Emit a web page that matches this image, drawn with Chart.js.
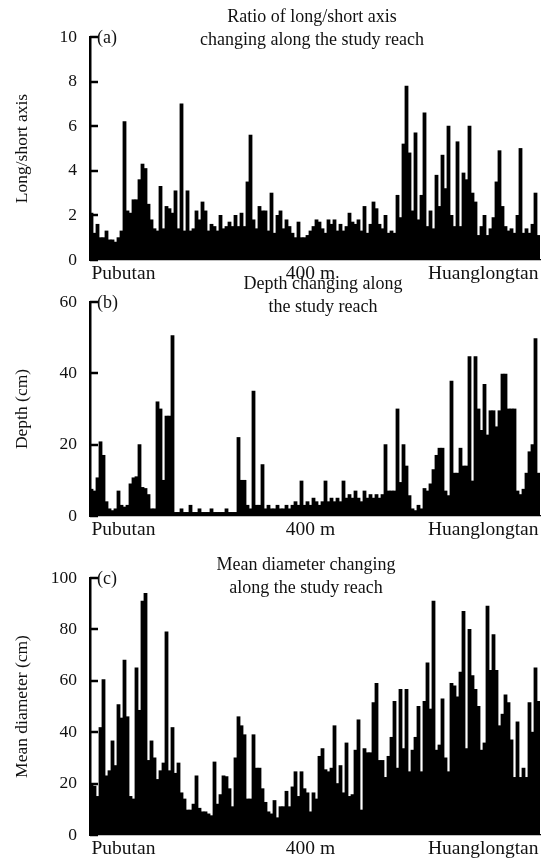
<!DOCTYPE html>
<html>
<head>
<meta charset="utf-8">
<script src="https://cdn.jsdelivr.net/npm/chart.js@4.4.1/dist/chart.umd.min.js"></script>
<style>
  html, body { margin: 0; padding: 0; background: #fff; }
  #wrap { position: relative; width: 555px; height: 867px; overflow: hidden; }
  canvas { position: absolute; left: 0; }
</style>
</head>
<body>
<div id="wrap">
  <canvas id="ca" width="555" height="292" style="top:0px"></canvas>
  <canvas id="cb" width="555" height="290" style="top:272px"></canvas>
  <canvas id="cc" width="555" height="315" style="top:552px"></canvas>
</div>
<script>
// ---------- DATA ----------
// sampling stations along the reach, Pubutan (first) -> Huanglongtan (last)
const stations = Array.from({length: 150}, (_, i) => i + 1);
const tickLabels = ['Pubutan', '400 m', 'Huanglongtan'];
const tickStations = [1, 74, 150];

const ratioLongShort = [
  2.1,1.2,1.6,1.0,1.0,1.3,0.9,0.9,0.8,1.0,1.3,6.2,2.2,2.1,2.7,2.7,3.6,4.3,4.1,2.5,
  1.8,1.4,1.3,3.3,1.4,2.4,2.3,2.1,3.1,1.4,7.0,1.3,3.1,1.3,1.4,2.2,1.8,2.6,2.2,1.3,
  1.6,1.5,1.3,2.0,1.4,1.5,1.7,1.5,2.0,1.5,
  2.1,1.5,3.5,5.6,1.8,1.4,2.4,2.2,2.2,1.3,3.0,1.2,2.0,2.2,1.4,1.8,1.5,1.2,1.0,1.7,
  1.0,1.0,1.1,1.3,1.5,1.8,1.7,1.4,1.2,1.8,1.6,1.8,1.3,1.6,1.3,1.5,2.1,1.7,1.6,1.8,
  1.3,2.4,1.2,1.6,2.6,2.3,1.6,1.4,2.0,1.2,
  1.3,1.2,2.9,1.9,5.2,7.8,4.8,2.2,5.7,1.8,2.9,6.6,1.5,2.2,1.4,3.8,2.4,4.7,3.2,6.0,
  2.0,1.5,5.3,1.5,3.9,3.6,6.0,3.0,2.6,1.1,1.5,2.0,1.1,1.4,1.9,3.5,4.9,2.4,1.5,1.3,
  1.4,1.2,2.0,5.0,1.2,1.4,1.2,1.6,3.0,1.1
];

const depthCm = [
  7.5,7,10.7,20.8,17,4,2,1.5,2,7,3,2.5,3,9,10.7,11,20,8,7.7,6,
  2,2,32,30,10,28,28,50.6,
  1,1,2,1,1,3,1,1,2,1,1,1,2,1,1,1,1,2,1,1,1,
  22,10,10,3,2,35,3,3,14.4,
  2,3,2,2,3,2,2,3,2,3,4,3,
  9.8,3,4,3,5,4,3,4,9.8,4,5,4,5,4,9.8,5,6,5,7,5,4,7,5,6,5,6,5,6,
  20,7,7,7,30,9.4,20,14,5.7,2,1.5,3,2,7.7,7,9,13,17,19,19,
  7,5.7,37.8,12,12,19,14,14,44.7,9.8,44.7,30,24,36.9,22.7,29.5,29.5,25,29.5,39.8,
  39.8,30,30,30,7,6,7.5,12,18,20,49.7,12
];

const meanDiameterCm = [
  20,19,15,41.8,60.4,23,25,36.6,27,50.7,45.5,68,46,15,14,65,48.5,91,94,29,
  36.6,30,21.6,25,28,79,25,41.8,24,28,16.4,14,9.7,9.7,12,23,10.4,9,9,8.2,
  7.5,28.4,12,15.7,23,22.7,18,11,30,46,
  42.5,39,14,14,39,26,26,18,12.7,9,8.2,13.4,6.7,11,11,17,11,18.7,24.6,15,
  24.6,18,16.4,9,16.4,14,30.6,33.6,25.4,24.6,26,42.5,20,27,16.4,35.8,15,15.7,33,44.8,
  9.7,33.6,32,32,51.5,59,29,29,22.4,30.6,
  38,52,26,56.7,33.6,56.7,24.6,33,38,50,24.6,52,67,49,91,33,35,53,30,24.6,
  59,58,53.7,63.4,87,33.6,80,62,56.7,50,33,35.8,89,64,78,64,42.5,47,54.5,51.5,
  37,22.4,44,22.4,26,22.4,51.5,40,65,52
];

// ---------- RENDER ----------
const SERIF = '"Liberation Serif", "Times New Roman", Times, serif';
const TXT = '#111';

const panelDecor = {
  id: 'panelDecor',
  afterDraw(chart, args, o) {
    const ctx = chart.ctx, ys = chart.scales.y, area = chart.chartArea;
    ctx.save();
    ctx.strokeStyle = '#000';
    ctx.lineWidth = 2.5;
    ys.ticks.forEach(t => {
      const py = Math.round(ys.getPixelForValue(t.value));
      ctx.beginPath();
      ctx.moveTo(area.left, py);
      ctx.lineTo(area.left + 8, py);
      ctx.stroke();
    });
    ctx.fillStyle = TXT;
    ctx.font = '18px ' + SERIF;
    ctx.textBaseline = 'middle';
    ctx.textAlign = 'left';
    ctx.fillText(o.letter, area.left + 7, ys.getPixelForValue(ys.max) + 1);
    ctx.textAlign = 'center';
    o.lines.forEach((s, i) => ctx.fillText(s, o.cx, o.ty + i * o.gap));
    ctx.restore();
  }
};

function makePanel(id, values, yMax, yStep, yTitle, letter, lines, cx, ty, padTop, padBottom) {
  new Chart(document.getElementById(id), {
    type: 'bar',
    data: {
      labels: stations,
      datasets: [{
        data: values,
        backgroundColor: '#000',
        borderWidth: 0,
        barPercentage: 1,
        categoryPercentage: 1,
        inflateAmount: 0.4
      }]
    },
    options: {
      responsive: false,
      animation: false,
      devicePixelRatio: 1,
      events: [],
      layout: { padding: { left: 0, right: 15, top: padTop, bottom: padBottom } },
      plugins: {
        legend: { display: false },
        tooltip: { enabled: false },
        panelDecor: { letter, lines, cx, ty, gap: 23 }
      },
      scales: {
        x: {
          grid: { display: true, drawOnChartArea: false, drawTicks: false },
          border: { display: true, color: '#000', width: 1.2, z: 1 },
          ticks: {
            autoSkip: false,
            maxRotation: 0,
            minRotation: 0,
            align: 'inner',
            padding: 2,
            color: TXT,
            font: { family: SERIF, size: 19.5 },
            callback: (v, i) => {
              const k = tickStations.indexOf(stations[i]);
              return k >= 0 ? tickLabels[k] : '';
            }
          },
          afterFit: s => { s.height = 30; }
        },
        y: {
          min: 0,
          max: yMax,
          grid: { display: true, drawOnChartArea: false, drawTicks: false },
          border: { display: true, color: '#000', width: 2.5, z: 1 },
          ticks: {
            stepSize: yStep,
            padding: 13,
            color: TXT,
            font: { family: SERIF, size: 17.5 }
          },
          title: {
            display: true,
            text: yTitle,
            color: TXT,
            font: { family: SERIF, size: 17.5 },
            padding: { top: 12, bottom: 0 }
          },
          afterFit: s => { s.width = 90; }
        }
      }
    },
    plugins: [panelDecor]
  });
}

makePanel('ca', ratioLongShort, 10, 2, 'Long/short axis', '(a)',
  ['Ratio of long/short axis', 'changing along the study reach'], 312, 17, 37, 2);
makePanel('cb', depthCm, 60, 20, 'Depth (cm)', '(b)',
  ['Depth changing along', 'the study reach'], 323, 12, 30, 16);
makePanel('cc', meanDiameterCm, 100, 20, 'Mean diameter (cm)', '(c)',
  ['Mean diameter changing', 'along the study reach'], 306, 13, 26, 2);
</script>
</body>
</html>
